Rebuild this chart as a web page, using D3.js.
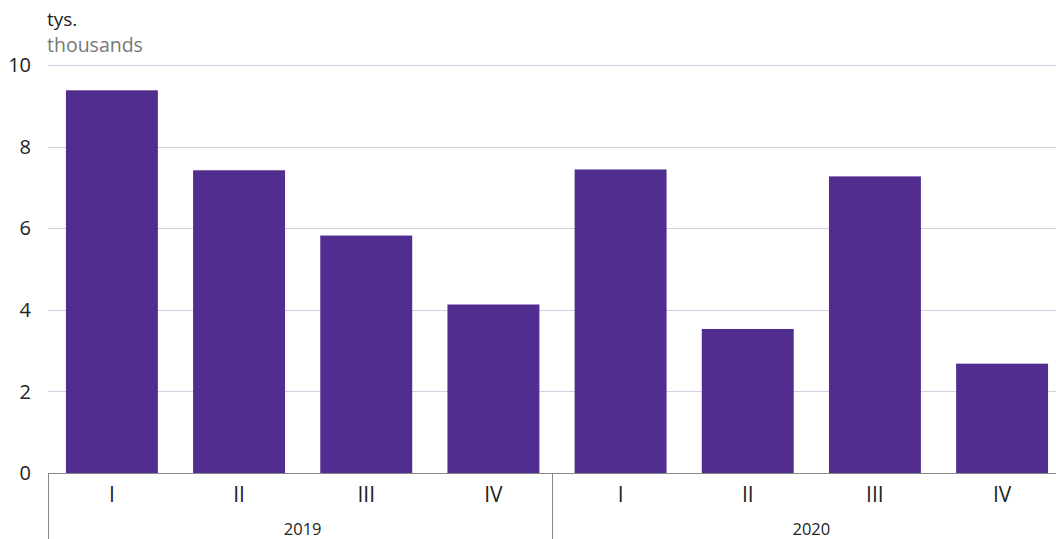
<!DOCTYPE html>
<html>
<head>
<meta charset="utf-8">
<script src="https://cdn.jsdelivr.net/npm/d3@7"></script>
<style>
  body { margin: 0; background: #fff; }
  text { font-family: "Open Sans", "Noto Sans", sans-serif; }
</style>
</head>
<body>
<div id="chart"></div>
<script>
// Chart data
var quarters = ['I', 'II', 'III', 'IV', 'I', 'II', 'III', 'IV']
var years = ['2019', '2020']
var values = [9.38, 7.42, 5.82, 4.13, 7.44, 3.53, 7.27, 2.68]
var yTicks = [0, 2, 4, 6, 8, 10]

var width = 1056
var height = 539
var margin = { top: 65, right: 0, bottom: 66, left: 48 }

var svg = d3.select('#chart')
  .append('svg')
  .attr('width', width)
  .attr('height', height)

// the last band runs a little past the right edge, as in the original
var x = d3.scaleBand()
  .domain(d3.range(values.length))
  .range([margin.left, 1066])
  .paddingInner(0.277)
  .paddingOuter(0.141)

var y = d3.scaleLinear()
  .domain([0, 10])
  .range([height - margin.bottom, margin.top])

// gridlines
svg.append('g')
  .selectAll('line')
  .data(yTicks.filter(d => d > 0))
  .join('line')
  .attr('x1', margin.left)
  .attr('x2', width)
  .attr('y1', d => Math.round(y(d)) + 0.5)
  .attr('y2', d => Math.round(y(d)) + 0.5)
  .attr('stroke', '#d3cfe3')
  .attr('stroke-width', 1)

// y labels
svg.append('g')
  .selectAll('text')
  .data(yTicks)
  .join('text')
  .attr('x', 31)
  .attr('y', d => y(d))
  .attr('dy', '0.36em')
  .attr('text-anchor', 'end')
  .attr('font-size', 20)
  .attr('fill', '#222')
  .text(d => d)

// unit labels
svg.append('text')
  .attr('x', 47).attr('y', 26)
  .attr('font-size', 19).attr('fill', '#222')
  .text('tys.')
svg.append('text')
  .attr('x', 47).attr('y', 52)
  .attr('font-size', 19.5).attr('fill', '#777')
  .text('thousands')

// bars
svg.append('g')
  .selectAll('rect')
  .data(values)
  .join('rect')
  .attr('x', (d, i) => x(i))
  .attr('width', x.bandwidth())
  .attr('y', d => y(d))
  .attr('height', d => y(0) - y(d))
  .attr('fill', '#512d8f')

// x axis
var base = y(0)
svg.append('line')
  .attr('x1', margin.left).attr('x2', width)
  .attr('y1', base + 0.5).attr('y2', base + 0.5)
  .attr('stroke', '#888')

var half = (width - margin.left) / 2
;[0, 1].forEach(g => {
  var sx = Math.round(margin.left + g * half) + 0.5
  svg.append('line')
    .attr('x1', sx).attr('x2', sx)
    .attr('y1', base).attr('y2', height)
    .attr('stroke', '#888')
})

svg.append('g')
  .selectAll('text')
  .data(quarters)
  .join('text')
  .attr('x', (d, i) => x(i) + x.bandwidth() / 2)
  .attr('y', base + 29)
  .attr('text-anchor', 'middle')
  .attr('font-size', 21)
  .attr('fill', '#222')
  .text(d => d)

svg.append('g')
  .selectAll('text')
  .data(years)
  .join('text')
  .attr('x', (d, i) => (x(i * 4 + 1) + x(i * 4 + 2) + x.bandwidth()) / 2)
  .attr('y', base + 62)
  .attr('text-anchor', 'middle')
  .attr('font-size', 16.5)
  .attr('fill', '#222')
  .text(d => d)
</script>
</body>
</html>
